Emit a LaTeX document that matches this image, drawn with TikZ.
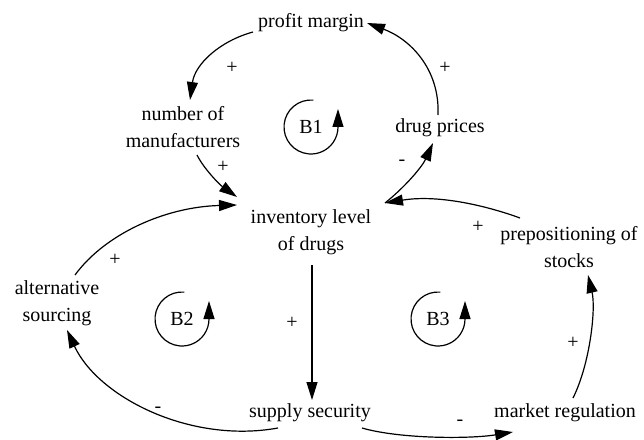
\documentclass[tikz,border=0pt]{standalone}
\usepackage{fontspec}
\setmainfont{Liberation Serif}
\usetikzlibrary{arrows.meta}
\begin{document}
\begin{tikzpicture}[x=1pt,y=1pt,line width=1.2pt,
  >={Triangle[length=18pt,width=11pt]},
  lbl/.style={align=center,font=\fontsize{20}{27}\selectfont,inner sep=0pt},
  sgn/.style={font=\fontsize{20}{24}\selectfont,inner sep=0pt},
  loopname/.style={font=\fontsize{20}{24}\selectfont,inner sep=0pt},
  link/.style={->},
  looparrow/.style={->}]
\useasboundingbox (0,0) rectangle (644,439);

% variables
\node[lbl] (pm)  at (311,416) {profit margin};
\node[lbl] (nm)  at (183,312) {number of\\manufacturers};
\node[lbl] (dp)  at (440,311) {drug prices};
\node[lbl] (inv) at (311,207) {inventory level\\of drugs};
\node[lbl] (alt) at (57,136)  {alternative\\sourcing};
\node[lbl] (pre) at (569,192) {prepositioning of\\stocks};
\node[lbl] (ss)  at (310,26)  {supply security};
\node[lbl] (mr)  at (565,26)  {market regulation};

% loop markers
\node[loopname] (b1) at (311,312) {B1};
\node[loopname] (b2) at (182,120) {B2};
\node[loopname] (b3) at (438,120) {B3};
\foreach \b in {b1,b2,b3}
  \draw[looparrow] ([shift={(85:27)}]\b.center) arc[start angle=85,end angle=360,radius=27] -- ++(0,18);

% causal links
\draw[link] ([shift={(-58,-9)}]pm.center) .. controls (220,398) and (195,375) .. ([shift={(7,27)}]nm.center);
\draw[link] ([shift={(14,-28)}]nm.center) .. controls (204,270) and (220,254) .. ([shift={(-74,35)}]inv.center);
\draw[link] ([shift={(74,29)}]inv.center) .. controls (405,252) and (422,272) .. ([shift={(-7,-15)}]dp.center);
\draw[link] ([shift={(-2,13)}]dp.center) .. controls (440,370) and (410,400) .. ([shift={(56,0)}]pm.center);
\draw[link] ([shift={(18,28)}]alt.center) .. controls (105,205) and (165,232) .. ([shift={(-74,27)}]inv.center);
\draw[link] ([shift={(1,-33)}]inv.center) -- ([shift={(2,13)}]ss.center);
\draw[link] ([shift={(-32,-15)}]ss.center) .. controls (190,-5) and (98,42) .. ([shift={(10,-27)}]alt.center);
\draw[link] ([shift={(52,-15)}]ss.center) .. controls (400,0) and (470,0) .. ([shift={(-52,-19)}]mr.center);
\draw[link] ([shift={(8,15)}]mr.center) .. controls (590,75) and (596,130) .. ([shift={(19,-28)}]pre.center);
\draw[link] ([shift={(-49,29)}]pre.center) .. controls (490,232) and (440,245) .. ([shift={(74,29)}]inv.center);

% polarities
\node[sgn] (s1)  at (232,371) {+};
\node[sgn] (s2)  at (223,272) {+};
\node[sgn] (s3)  at (402,276) {-};
\node[sgn] (s4)  at (445,371) {+};
\node[sgn] (s5)  at (115,179) {+};
\node[sgn] (s6)  at (292,116) {+};
\node[sgn] (s7)  at (158,29)  {-};
\node[sgn] (s8)  at (460,16)  {-};
\node[sgn] (s9)  at (573,96)  {+};
\node[sgn] (s10) at (478,212) {+};
\end{tikzpicture}
\end{document}
